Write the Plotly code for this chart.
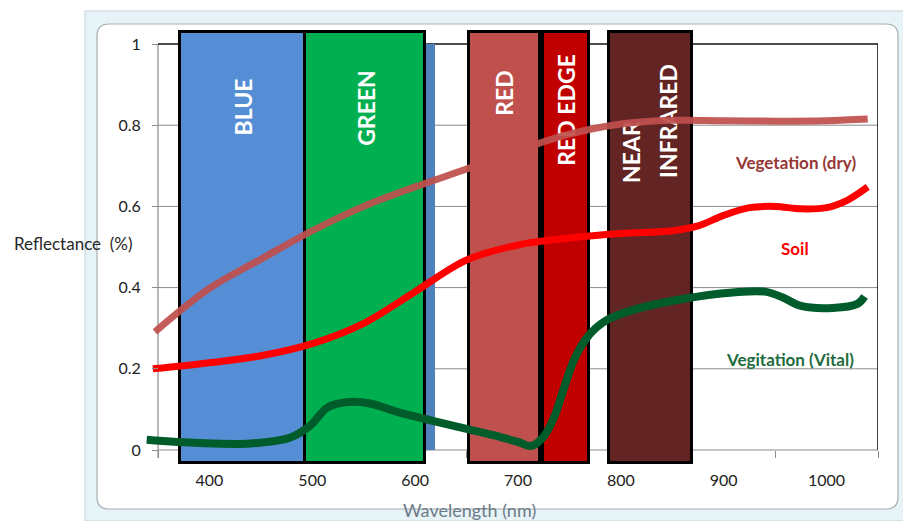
import plotly.graph_objects as go

# ---------------- data ----------------
band_names = ["BLUE", "GREEN", "RED", "RED EDGE", "NEAR INFRARED"]
band_start = [371, 493, 652, 724, 788]   # nm
band_end = [493, 610, 721, 769, 869]     # nm
band_colors = ["#558ED5", "#00B050", "#C0504D", "#C00000", "#632523"]

# partly hidden column behind the GREEN band
strip_start, strip_end, strip_value = 610, 619, 1.0

dry_x = [347, 400, 450, 500, 550, 600, 650, 700, 750, 800, 850, 900, 950, 1000, 1040]
dry_y = [0.291, 0.398, 0.470, 0.540, 0.600, 0.648, 0.692, 0.738, 0.778, 0.803, 0.812, 0.811,
         0.810, 0.811, 0.815]

soil_x = [345, 400, 450, 500, 550, 600, 650, 700, 750, 800, 850, 875, 900, 925, 950, 975, 1000,
          1020, 1040]
soil_y = [0.200, 0.215, 0.232, 0.262, 0.312, 0.390, 0.468, 0.505, 0.522, 0.533, 0.540, 0.552,
          0.578, 0.597, 0.600, 0.594, 0.597, 0.615, 0.648]

vital_x = [339, 390, 440, 478, 498, 515, 535, 555, 585, 617, 650, 683, 700, 713, 725, 735, 745,
           755, 768, 785, 812, 860, 909, 940, 958, 975, 1006, 1030, 1037]
vital_y = [0.025, 0.017, 0.016, 0.030, 0.060, 0.105, 0.118, 0.115, 0.092, 0.072, 0.052, 0.032,
           0.020, 0.010, 0.033, 0.080, 0.155, 0.225, 0.280, 0.318, 0.345, 0.372, 0.388, 0.390,
           0.375, 0.355, 0.350, 0.360, 0.378]

y_ticks = [0, 0.2, 0.4, 0.6, 0.8, 1]
y_tick_text = ["0", "0.2", "0.4", "0.6", "0.8", "1"]
x_ticks = [400, 500, 600, 700, 800, 900, 1000]
x_tick_text = ["400", "500", "600", "700", "800", "900", "1000"]

series_labels = ["Vegetation (dry)", "Soil", "Vegitation (Vital)"]

# ---------------- layout geometry ----------------
W, H = 903, 521
X_MIN, X_MAX = 350, 1050
PX_PER_NM = 720 / 700
PAD_L = 12                       # px of plot area left of the y axis
ML, MR, MT, MB = 146, 25, 28, 56
UNIT = 406                       # px per reflectance unit
Y0_PX = 450                      # pixel row of reflectance 0
plot_h = H - MT - MB
y_bot = -(H - MB - Y0_PX) / UNIT
y_top = 1 + (Y0_PX - UNIT - MT) / UNIT
x_lo = X_MIN - PAD_L / PX_PER_NM


def px(xp):
    return (xp - ML) / (W - ML - MR)


def py(yp):
    return (H - MB - yp) / plot_h


band_top, band_bottom = 1.03, -0.032

# label placement (in data units)
label_text = ["BLUE", "GREEN", "RED", "RED EDGE", "NEAR", "INFRARED"]
label_x = [(band_start[0] + band_end[0]) / 2, (band_start[1] + band_end[1]) / 2,
           (band_start[2] + band_end[2]) / 2, (band_start[3] + band_end[3]) / 2, 809, 845]
label_cy = [0.845, 0.842, 0.879, 0.837, 0.734, 0.81]
label_w = [100, 100, 60, 40, 34, 34]
label_h = [0.6, 0.6, 0.6, 0.6, 0.4, 0.6]

fig = go.Figure()

# hidden column strip
fig.add_trace(go.Bar(
    x=[(strip_start + strip_end) / 2], y=[strip_value], base=[0], width=[strip_end - strip_start],
    marker=dict(color="#4F81BD", line=dict(width=0)), hoverinfo="skip", showlegend=False))

# spectral bands
fig.add_trace(go.Bar(
    x=[(s + e) / 2 for s, e in zip(band_start, band_end)],
    width=[e - s for s, e in zip(band_start, band_end)],
    y=[band_top - band_bottom] * len(band_names), base=[band_bottom] * len(band_names),
    marker=dict(color=band_colors, line=dict(color="black", width=3)),
    hoverinfo="skip", showlegend=False))

# band labels (transparent bars carrying rotated text, under the curves)
fig.add_trace(go.Bar(
    x=label_x, width=label_w,
    y=label_h, base=[c - h / 2 for c, h in zip(label_cy, label_h)],
    marker=dict(color="rgba(0,0,0,0)", line=dict(width=0)),
    text=label_text, textposition="inside", insidetextanchor="middle", textangle=-90,
    constraintext="none",
    insidetextfont=dict(family="Lato", size=23, color="white", weight="bold"),
    hoverinfo="skip", showlegend=False))

fig.add_trace(go.Scatter(x=dry_x, y=dry_y, mode="lines",
                         line=dict(color="rgba(192,80,77,0.93)", width=7, shape="spline"),
                         name=series_labels[0], showlegend=False))
fig.add_trace(go.Scatter(x=soil_x, y=soil_y, mode="lines",
                         line=dict(color="#FF0000", width=7, shape="spline"),
                         name=series_labels[1], showlegend=False))
fig.add_trace(go.Scatter(x=vital_x, y=vital_y, mode="lines",
                         line=dict(color="#005C2A", width=8, shape="spline"),
                         name=series_labels[2], showlegend=False))

shapes = []
# chart frame (decoration)
shapes.append(dict(type="rect", xref="paper", yref="paper", x0=px(85), x1=px(910), y0=py(11), y1=py(521),
                   fillcolor="#E6F3F7", line=dict(color="#C4D3DA", width=1), layer="below"))
ix0, ix1, iy0, iy1, r = px(97), px(898), py(24), py(509), 12
rx, ry = r / (W - ML - MR), r / plot_h
path = (f"M {ix0+rx},{iy0} L {ix1-rx},{iy0} Q {ix1},{iy0} {ix1},{iy0-ry} L {ix1},{iy1+ry} "
        f"Q {ix1},{iy1} {ix1-rx},{iy1} L {ix0+rx},{iy1} Q {ix0},{iy1} {ix0},{iy1+ry} "
        f"L {ix0},{iy0-ry} Q {ix0},{iy0} {ix0+rx},{iy0} Z")
shapes.append(dict(type="path", xref="paper", yref="paper", path=path, fillcolor="white",
                   line=dict(color="#A7AEB2", width=1.2), layer="below"))

grid_c = "#8C8C8C"
for v in y_ticks[1:-1]:
    shapes.append(dict(type="line", xref="x", yref="y", x0=X_MIN, x1=X_MAX, y0=v, y1=v,
                       line=dict(color=grid_c, width=1), layer="between"))
shapes.append(dict(type="line", xref="x", yref="y", x0=X_MIN, x1=X_MAX, y0=0, y1=0,
                   line=dict(color=grid_c, width=1.2), layer="between"))
shapes.append(dict(type="line", xref="x", yref="y", x0=X_MIN, x1=X_MIN, y0=-0.02, y1=1,
                   line=dict(color=grid_c, width=1.2), layer="between"))
shapes.append(dict(type="line", xref="x", yref="y", x0=X_MIN, x1=X_MAX, y0=1, y1=1,
                   line=dict(color="#111111", width=1.6), layer="between"))
shapes.append(dict(type="line", xref="x", yref="y", x0=X_MAX, x1=X_MAX, y0=0, y1=1,
                   line=dict(color="#111111", width=1.6), layer="between"))

annotations = [
    dict(text="Reflectance  (%)", xref="paper", yref="paper", x=px(12), y=py(243), xanchor="left",
         yanchor="middle", showarrow=False, font=dict(family="Lato", size=17, color="#262626")),
    dict(text="Wavelength (nm)", xref="paper", yref="paper", x=px(469), y=py(510), xanchor="center",
         yanchor="middle", showarrow=False, font=dict(family="Lato", size=18, color="#6E7A86")),
    dict(text=series_labels[0], xref="x", yref="y", x=970, y=0.707, showarrow=False,
         font=dict(family="Lato", size=17, color="#953735", weight="bold")),
    dict(text=series_labels[1], xref="x", yref="y", x=969, y=0.497, showarrow=False,
         font=dict(family="Lato", size=17, color="#FF0000", weight="bold")),
    dict(text=series_labels[2], xref="x", yref="y", x=964, y=0.222, showarrow=False,
         font=dict(family="Lato", size=17, color="#1E6B3E", weight="bold")),
]

fig.update_layout(
    width=W, height=H, margin=dict(l=ML, r=MR, t=MT, b=MB),
    paper_bgcolor="white", plot_bgcolor="rgba(0,0,0,0)",
    barmode="overlay", bargap=0, showlegend=False,
    shapes=shapes, annotations=annotations,
    xaxis=dict(range=[x_lo, X_MAX], tickvals=x_ticks, ticktext=x_tick_text, ticks="",
               showgrid=False, zeroline=False, showline=False, anchor="free",
               position=py(Y0_PX), layer="below traces", ticklabelstandoff=19,
               tickfont=dict(family="Lato", size=16, color="#222222"),
               minor=dict(tick0=X_MIN, dtick=100, ticks="outside", ticklen=7, tickcolor=grid_c,
                          showgrid=False)),
    yaxis=dict(range=[y_bot, y_top], tickvals=y_ticks, ticktext=y_tick_text, ticks="outside",
               ticklen=6, tickcolor=grid_c, showgrid=False, zeroline=False, showline=False,
               anchor="free", position=px(158), ticklabelstandoff=8,
               tickfont=dict(family="Lato", size=16, color="#222222")),
)

fig.write_html("out.html")
